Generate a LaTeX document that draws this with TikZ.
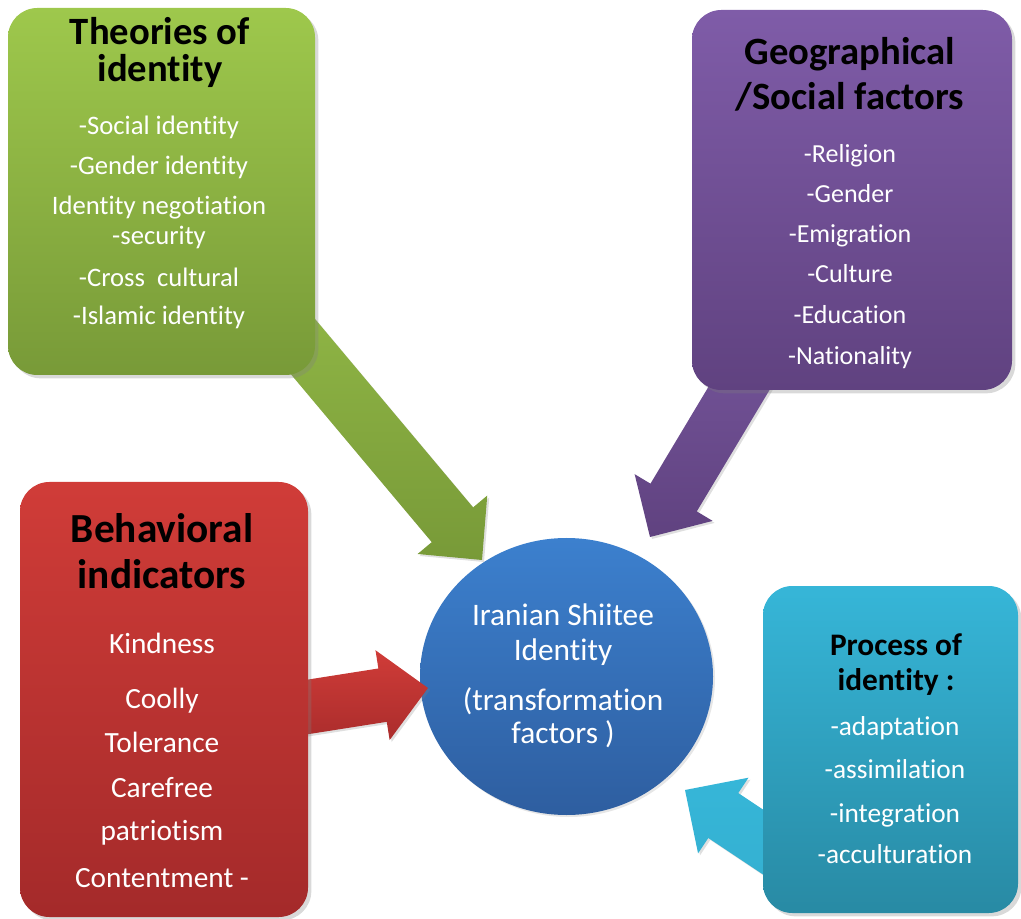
\documentclass[tikz,border=0pt]{standalone}
\usepackage{fontspec}
\setmainfont{Carlito}[Ligatures={NoCommon,NoContextual}]
\usetikzlibrary{calc, shapes.geometric, shadows}

\definecolor{theoTop}{RGB}{158,200,76}
\definecolor{theoBot}{RGB}{120,154,56}
\definecolor{geoTop}{RGB}{127,92,168}
\definecolor{geoBot}{RGB}{96,66,128}
\definecolor{behTop}{RGB}{208,60,56}
\definecolor{behBot}{RGB}{164,42,42}
\definecolor{procTop}{RGB}{54,182,216}
\definecolor{procBot}{RGB}{40,138,164}
\definecolor{coreTop}{RGB}{60,128,206}
\definecolor{coreBot}{RGB}{46,94,160}

\tikzset{
  box/.style={rounded corners=22pt, inner sep=0pt,
    drop shadow={shadow xshift=2.5pt, shadow yshift=-2.5pt, opacity=0.3}},
  boxtitle/.style={font=\bfseries\fontsize{#1}{#1}\selectfont, text=black, anchor=base, inner sep=0pt},
  boxitem/.style={font=\fontsize{#1}{#1}\selectfont, text=white, anchor=base, inner sep=0pt},
}

% block arrow: tail, tip, colours
\newcommand{\blockarrow}[3]{%
  \coordinate (#2-base) at ($(#2)!34.5pt!(#1)$);
  \path[#3, drop shadow={shadow xshift=1.5pt, shadow yshift=-1.5pt, opacity=0.25}]
    ($(#1)!20.25pt!90:(#2)$) -- ($(#2-base)!20.25pt!90:(#2)$)
    -- ($(#2-base)!34.1pt!90:(#2)$) -- (#2)
    -- ($(#2-base)!34.1pt!-90:(#2)$) -- ($(#2-base)!20.25pt!-90:(#2)$)
    -- ($(#1)!20.25pt!-90:(#2)$) -- cycle;
}

\begin{document}
\begin{tikzpicture}[x=0.75pt, y=-0.75pt]
  \useasboundingbox (0,0) rectangle (1021,919);

  % centre
  \node[ellipse, minimum width=219.75pt, minimum height=207.75pt, inner sep=0pt,
    top color=coreTop, bottom color=coreBot,
    drop shadow={shadow xshift=1.5pt, shadow yshift=-1.5pt, opacity=0.2}] (core) at (566.5,676.5) {};

  % arrow ends
  \coordinate (theo-out) at (289,330);
  \coordinate (theo-tip) at (482,560);
  \coordinate (geo-out) at (753,365);
  \coordinate (geo-tip) at (650,537);
  \coordinate (beh-out) at (231,719);
  \coordinate (beh-tip) at (428,688);
  \coordinate (proc-out) at (820,880);
  \coordinate (proc-tip) at (685,790);

  \blockarrow{theo-out}{theo-tip}{top color=theoTop!90!black, bottom color=theoBot}
  \blockarrow{geo-out}{geo-tip}{top color=geoTop!90!black, bottom color=geoBot}
  \blockarrow{beh-out}{beh-tip}{top color=behTop, bottom color=behBot!90!behTop}
  \blockarrow{proc-out}{proc-tip}{top color=procTop, bottom color=procTop!85!procBot}

  % boxes
  \node[box, top color=theoTop, bottom color=theoBot, minimum width=230.25pt, minimum height=275.25pt] (theo) at (161.5,191.5) {};
  \node[box, top color=geoTop, bottom color=geoBot, minimum width=240pt, minimum height=285pt] (geo) at (852,200) {};
  \node[box, top color=behTop, bottom color=behBot, minimum width=216pt, minimum height=326.25pt] (beh) at (164,699.5) {};
  \node[box, top color=procTop, bottom color=procBot, minimum width=191.25pt, minimum height=245.25pt] (proc) at (890.5,749.5) {};

  % texts
  \node[boxtitle=29pt] (theo-t1) at (160,45) {Theories of};
  \node[boxtitle=29pt] (theo-t2) at (160,82) {identity};
  \foreach \y/\t in {135/-Social identity, 175/-Gender identity, 215/Identity negotiation,
      245/-security, 287/-Cross\ \ cultural, 325/-Islamic identity}
    \node[boxitem=20pt] (theo-\y) at (159,\y) {\t};

  \node[boxtitle=29pt] (geo-t1) at (850,65) {Geographical};
  \node[boxtitle=29pt] (geo-t2) at (850,110) {/Social factors};
  \foreach \y/\t in {163/-Religion, 203/-Gender, 243/-Emigration, 283/-Culture,
      324/-Education, 365/-Nationality}
    \node[boxitem=19.5pt] (geo-\y) at (850,\y) {\t};

  \node[boxtitle=31pt] (beh-t1) at (162,542) {Behavioral};
  \node[boxtitle=31pt] (beh-t2) at (162,588) {indicators};
  \foreach \y/\t in {653/Kindness, 708/Coolly, 752/Tolerance, 797/Carefree,
      840/patriotism, 887/Contentment -}
    \node[boxitem=22pt] (beh-\y) at (162,\y) {\t};

  \node[boxtitle=23.5pt] (proc-t1) at (896,655) {Process of};
  \node[boxtitle=23.5pt] (proc-t2) at (896,690) {identity :};
  \foreach \y/\t in {735/-adaptation, 778/-assimilation, 822/-integration, 863/-acculturation}
    \node[boxitem=20.5pt] (proc-\y) at (895,\y) {\t};

  \foreach \y/\t in {625/Iranian Shiitee, 660/Identity, 710/{(transformation}, 743/{factors )}}
    \node[boxitem=23.5pt] (core-\y) at (563,\y) {\t};
\end{tikzpicture}
\end{document}
